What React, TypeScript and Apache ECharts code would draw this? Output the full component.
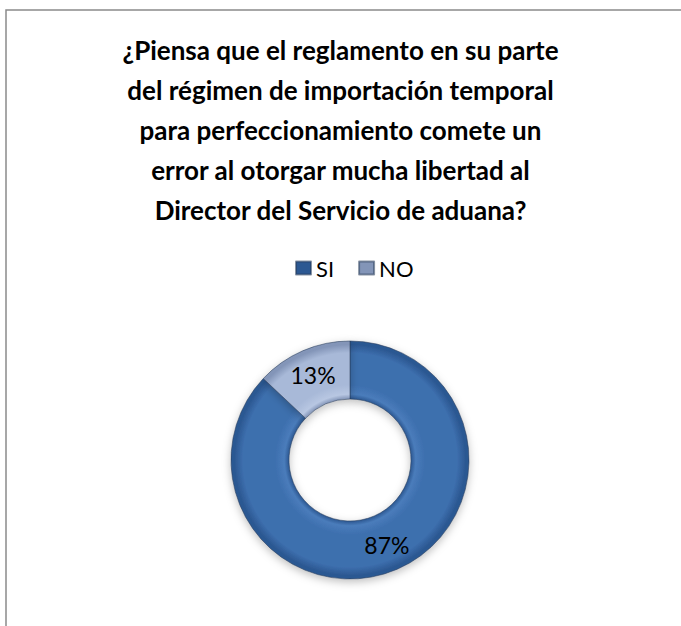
import React, { useEffect, useRef } from "react";
import * as echarts from "echarts";

const titleLines = [
  "¿Piensa que el reglamento en su parte",
  "del régimen de importación temporal",
  "para perfeccionamiento comete un",
  "error al otorgar mucha libertad al",
  "Director del Servicio de aduana?",
];
const categories = ["SI", "NO"];
const values = [87, 13];

const CX = 350;
const CY = 460;
const R_IN = 61;
const R_OUT = 119;

function ringGradient(edge: string, mid: string, light: string) {
  const f = R_IN / R_OUT;
  return new echarts.graphic.RadialGradient(
    CX,
    CY,
    R_OUT,
    [
      { offset: 0, color: edge },
      { offset: f, color: edge },
      { offset: f + 0.04, color: light },
      { offset: f + 0.12, color: mid },
      { offset: 0.9, color: mid },
      { offset: 0.97, color: edge },
      { offset: 1, color: edge },
    ],
    true
  );
}

export default function App() {
  const ref = useRef<HTMLDivElement>(null);
  useEffect(() => {
    if (!ref.current) return;
    document.documentElement.style.overflow = "hidden";
    document.body.style.overflow = "hidden";
    document.body.style.margin = "0";
    const chart = echarts.init(ref.current, undefined, { renderer: "svg" });
    const fills = [
      ringGradient("#2c5892", "#3d6fae", "#4a7cbb"),
      ringGradient("#8395b8", "#a8b9d8", "#b8c7e2"),
    ];
    chart.setOption({
      animation: false,
      backgroundColor: "#ffffff",
      graphic: [
        {
          type: "polyline",
          shape: { points: [[6, 640], [6, 10], [700, 10]] },
          style: { fill: "none", stroke: "#8a8a8a", lineWidth: 1.5 },
          silent: true,
        },
      ],
      title: {
        text: titleLines.join("\n"),
        left: "center",
        top: 25,
        textStyle: {
          fontFamily: "Lato",
          fontWeight: "bold",
          fontSize: 26,
          lineHeight: 40,
          color: "#000000",
        },
      },
      legend: {
        data: categories,
        top: 252,
        left: 290,
        icon: "rect",
        itemWidth: 15,
        itemHeight: 13,
        itemGap: 24,
        textStyle: { fontFamily: "Lato", fontSize: 22, color: "#000" },
      },
      color: ["#3d6fae", "#a8b9d8"],
      series: [
        {
          type: "pie",
          center: [CX, CY],
          radius: [R_IN, R_OUT],
          startAngle: 90,
          clockwise: true,
          avoidLabelOverlap: false,
          data: categories.map((c, i) => ({
            name: c,
            value: values[i],
            itemStyle: { color: fills[i] },
          })),
          itemStyle: {
            borderColor: "rgba(40,60,90,0.55)",
            borderWidth: 1,
            shadowBlur: 8,
            shadowColor: "rgba(0,0,0,0.25)",
            shadowOffsetY: 3,
          },
          label: {
            show: true,
            position: "inside",
            formatter: (p: any) => p.value + "%",
            fontFamily: "Lato",
            fontSize: 23,
            color: "#000",
          },
          labelLine: { show: false },
          emphasis: { disabled: true },
        },
      ],
    });
    return () => chart.dispose();
  }, []);
  return (
    <div
      ref={ref}
      style={{ position: "absolute", left: 0, top: 0, width: 681, height: 626 }}
    />
  );
}
